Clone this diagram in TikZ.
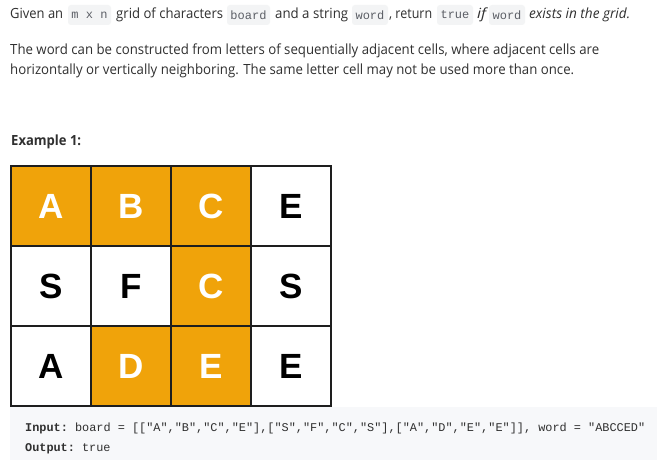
\documentclass[tikz,border=0pt]{standalone}
\usepackage{fontspec}
\usepackage{graphicx}
\setmainfont{Open Sans}
\setmonofont{Liberation Mono}
\newfontfamily\gridfont{Liberation Sans}
\definecolor{txt}{HTML}{303030}
\definecolor{codetxt}{HTML}{5C5F66}
\definecolor{codebg}{HTML}{F3F4F5}
\definecolor{blockbg}{HTML}{F7F8FA}
\definecolor{hl}{HTML}{F0A30A}
\definecolor{gridline}{HTML}{1E1E1E}
\newcommand{\fitw}[2]{\resizebox{#1pt}{\height}{#2}}
\begin{document}
\begin{tikzpicture}[x=1pt,y=-1pt,
  body/.style={anchor=base west, inner sep=0pt, text=txt, font=\fontsize{14}{16}\selectfont},
  codebox/.style={fill=codebg, rounded corners=3pt, minimum height=20pt, inner sep=0pt, text=codetxt, font=\ttfamily\fontsize{12}{14}\selectfont},
  cell/.style={draw=gridline, line width=2pt, minimum size=80pt, inner sep=0pt, font=\gridfont\bfseries\fontsize{35}{35}\selectfont},
  on/.style={cell, fill=hl, text=white},
  off/.style={cell, fill=white, text=black},
  codeline/.style={anchor=base west, inner sep=0pt, text=txt, font=\ttfamily\fontsize{11.85}{14}\selectfont}
]
\useasboundingbox (0,0) rectangle (657,460);
\fill[white] (0,0) rectangle (657,460);

% line 1
\node[body] (t1) at (10,19) {\fitw{53}{Given an}};
\node[codebox, minimum width=43pt] (c1) at (89.5,15) {m x n};
\node[body] (t2) at (116,19) {\fitw{107}{grid of characters}};
\node[codebox, minimum width=43pt] (c2) at (248.5,15) {board};
\node[body] (t3) at (275,19) {\fitw{73}{and a string}};
\node[codebox, minimum width=36pt] (c3) at (370,15) {word};
\node[body] (t4) at (389,19) {\fitw{43}{, return}};
\node[codebox, minimum width=36pt] (c4) at (455,15) {true};
\node[body] (t5) at (477,19) {\fitw{9}{\itshape if}};
\node[codebox, minimum width=36pt] (c5) at (507,15) {word};
\node[body] (t6) at (529,19) {\fitw{101}{\itshape exists in the grid.}};

% lines 2-3
\node[body] (p2) at (10,55) {\fitw{589}{The word can be constructed from letters of sequentially adjacent cells, where adjacent cells are}};
\node[body] (p3) at (10,75) {\fitw{564}{horizontally or vertically neighboring. The same letter cell may not be used more than once.}};

% Example 1
\node[body] (ex) at (11,146) {\fitw{70}{\bfseries Example 1:}};

% grid
\node[on]  (g11) at (51,206)  {A};
\node[on]  (g12) at (131,206) {B};
\node[on]  (g13) at (211,206) {C};
\node[off] (g14) at (291,206) {E};
\node[off] (g21) at (51,286)  {S};
\node[off] (g22) at (131,286) {F};
\node[on]  (g23) at (211,286) {C};
\node[off] (g24) at (291,286) {S};
\node[off] (g31) at (51,366)  {A};
\node[on]  (g32) at (131,366) {D};
\node[on]  (g33) at (211,366) {E};
\node[off] (g34) at (291,366) {E};

% code block
\fill[blockbg] (10,407) rectangle (657,460);
\node[codeline] (inp) at (25,431) {\fitw{620}{\textbf{Input:} board = [["A","B","C","E"],["S","F","C","S"],["A","D","E","E"]], word = "ABCCED"}};
\node[codeline] (out) at (25,451) {\textbf{Output:} true};
\end{tikzpicture}
\end{document}
